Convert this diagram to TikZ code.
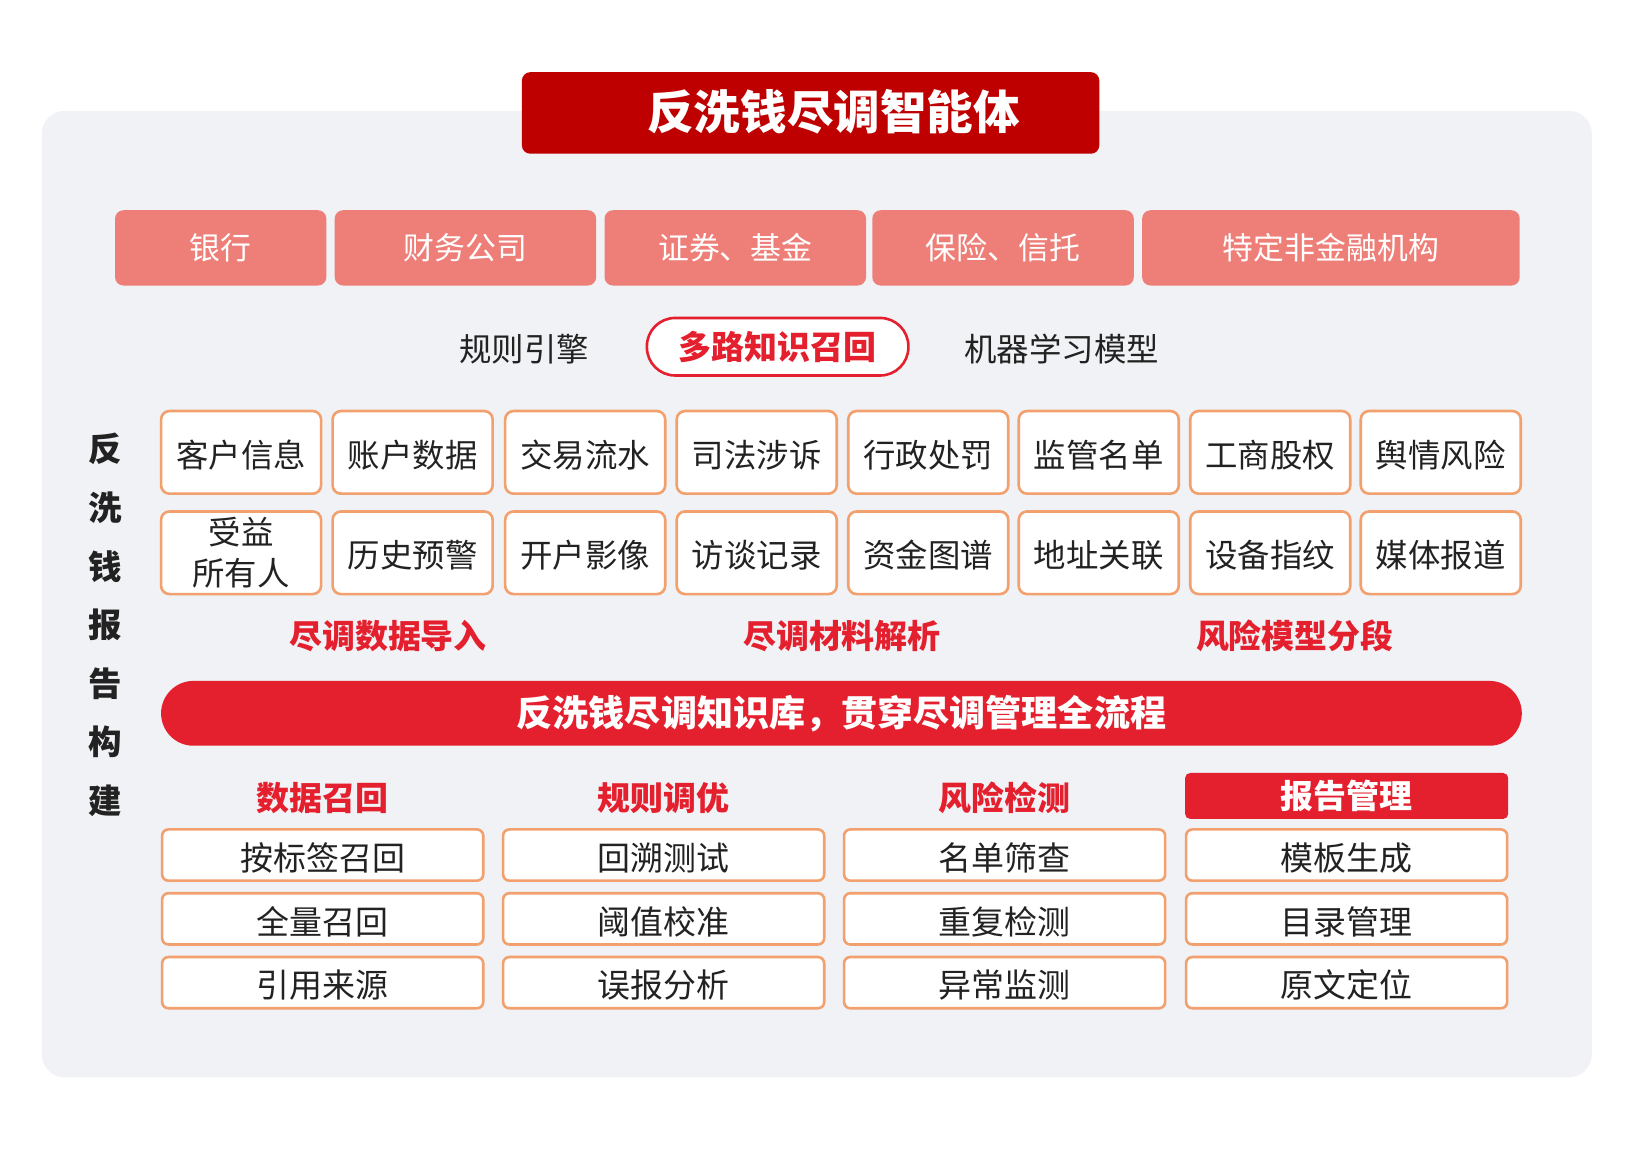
\documentclass[tikz,border=0pt]{standalone}
\usepackage{fontspec}
\setmainfont{Noto Sans CJK SC}
\usetikzlibrary{positioning}
\tikzset{>=stealth}

\definecolor{panelgray}{HTML}{F0F2F5}
\definecolor{titlered}{HTML}{BF0000}
\definecolor{instpink}{HTML}{EE7F78}
\definecolor{kbred}{HTML}{E5202E}
\definecolor{cellorange}{HTML}{F2A06E}
\definecolor{inkdark}{HTML}{222222}

\tikzset{
  instbox/.style={fill=instpink, rounded corners=8pt, text=white, inner sep=0pt,
    minimum width=250pt, minimum height=72pt, font=\fontsize{29.5}{32}\selectfont},
  plainlabel/.style={text=inkdark, inner sep=0pt, font=\fontsize{31}{36}\selectfont},
  redlabel/.style={text=kbred, inner sep=0pt, font=\fontsize{31.5}{36}\selectfont\bfseries},
  cellbase/.style={draw=cellorange, line width=2.5pt, fill=white, rounded corners=8pt,
    minimum width=153pt, minimum height=79pt, inner sep=0pt, align=center,
    text=inkdark, font=\fontsize{31}{39}\selectfont},
  datacell/.style={cellbase, text height=30pt, text depth=1pt},
  funccell/.style={draw=cellorange, line width=2.5pt, fill=white, rounded corners=6pt,
    minimum width=307pt, minimum height=49pt, inner sep=0pt,
    text height=30pt, text depth=1pt,
    text=inkdark, font=\fontsize{31.5}{36}\selectfont},
}

\begin{document}
\begin{tikzpicture}[x=1pt,y=-1pt]
    \useasboundingbox[fill=white] (0,0) rectangle (1568,1107);
    % panel
    \fill[panelgray, rounded corners=22pt] (40,106) rectangle (1522,1030);
    % title
    \node[fill=titlered, rounded corners=8pt, minimum width=552pt, minimum height=78pt]
      (title) at (775,108) {};
    \node[text=white, inner sep=0pt, font=\fontsize{44.5}{48}\selectfont\bfseries]
      (titletext) at (797,107) {反洗钱尽调智能体};

    % institutions
    \node[instbox, minimum width=202pt] (bank) at (211,237) {银行};
    \node[instbox] (finco) at (445,237) {财务公司};
    \node[instbox] (secfund) at (703,237) {证券、基金};
    \node[instbox] (instrust) at (959,237) {保险、信托};
    \node[instbox, minimum width=361pt] (nonfin) at (1272.5,237) {特定非金融机构};

    % engines
    \node[plainlabel] (rules) at (501,334) {规则引擎};
    \node[draw=kbred, line width=2.5pt, fill=white, rounded corners=27pt,
      minimum width=250pt, minimum height=55pt, inner sep=0pt,
      text=kbred, font=\fontsize{31.5}{36}\selectfont\bfseries] (recall) at (743.5,331.5) {多路知识召回};
    \node[plainlabel] (mlmodel) at (1015,334) {机器学习模型};

    % side title
    \node[text=inkdark, align=center, inner sep=0pt, font=\fontsize{32}{56}\selectfont\bfseries]
      (side) at (101,597.5) {反\\洗\\钱\\报\\告\\构\\建};

    % data sources, first row
    \node[datacell] (custinfo) at (230.5,432.5) {客户信息};
    \node[datacell] (acctdata) at (394.5,432.5) {账户数据};
    \node[datacell] (txflow) at (559.5,432.5) {交易流水};
    \node[datacell] (judicial) at (723.5,432.5) {司法涉诉};
    \node[datacell] (penalty) at (887.5,432.5) {行政处罚};
    \node[datacell] (watchlist) at (1050.5,432.5) {监管名单};
    \node[datacell] (equity) at (1214.5,432.5) {工商股权};
    \node[datacell] (opinion) at (1377.5,432.5) {舆情风险};
    % data sources, second row
    \node[cellbase] (benowner) at (230.5,528.5) {受益\\所有人};
    \node[datacell] (alerts) at (394.5,528.5) {历史预警};
    \node[datacell] (acctimg) at (559.5,528.5) {开户影像};
    \node[datacell] (interview) at (723.5,528.5) {访谈记录};
    \node[datacell] (fundgraph) at (887.5,528.5) {资金图谱};
    \node[datacell] (address) at (1050.5,528.5) {地址关联};
    \node[datacell] (device) at (1214.5,528.5) {设备指纹};
    \node[datacell] (media) at (1377.5,528.5) {媒体报道};

    % stages
    \node[redlabel] (import) at (371,608) {尽调数据导入};
    \node[redlabel] (parse) at (805,608) {尽调材料解析};
    \node[redlabel] (segment) at (1238,608) {风险模型分段};

    % knowledge base
    \node[fill=kbred, rounded corners=31pt, minimum width=1301pt, minimum height=62pt,
      inner sep=0pt, text=white, font=\fontsize{34.5}{38}\selectfont\bfseries]
      (kbase) at (804.5,682) {反洗钱尽调知识库，贯穿尽调管理全流程};

    % functions
    \node[redlabel] (datarecall) at (308.5,763) {数据召回};
    \node[redlabel] (ruletune) at (634.5,763) {规则调优};
    \node[redlabel] (riskdetect) at (960.5,763) {风险检测};
    \node[fill=kbred, rounded corners=5pt, minimum width=309pt, minimum height=44pt,
      inner sep=0pt, text=white, font=\fontsize{31.5}{36}\selectfont\bfseries]
      (reportmgmt) at (1287.5,761) {报告管理};

    \node[funccell] (bytag) at (308.5,817.5) {按标签召回};
    \node[funccell] (fullrecall) at (308.5,878.5) {全量召回};
    \node[funccell] (citesrc) at (308.5,939.5) {引用来源};
    \node[funccell] (backtest) at (634.5,817.5) {回溯测试};
    \node[funccell] (threshold) at (634.5,878.5) {阈值校准};
    \node[funccell] (falsepos) at (634.5,939.5) {误报分析};
    \node[funccell] (screening) at (960.5,817.5) {名单筛查};
    \node[funccell] (dupcheck) at (960.5,878.5) {重复检测};
    \node[funccell] (anomaly) at (960.5,939.5) {异常监测};
    \node[funccell] (template) at (1287.5,817.5) {模板生成};
    \node[funccell] (toc) at (1287.5,878.5) {目录管理};
    \node[funccell] (locate) at (1287.5,939.5) {原文定位};
\end{tikzpicture}
\end{document}
